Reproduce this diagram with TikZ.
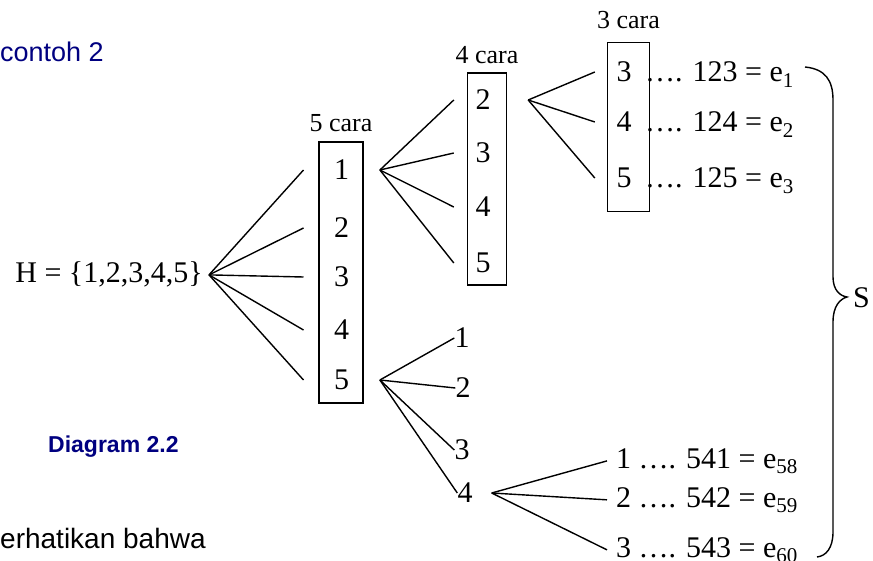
\documentclass[tikz,border=0pt]{standalone}
\usepackage{fontspec}
\setmainfont{Liberation Serif}
\newfontfamily\labelsans{Liberation Sans}
\usetikzlibrary{positioning}

\definecolor{navytext}{RGB}{0,0,128}
\newcommand{\numsize}{\fontsize{30}{36}\selectfont}
\newcommand{\carasize}{\fontsize{26}{31}\selectfont}

\tikzset{
  num/.style={font=\numsize, inner sep=0pt},
  lvlA/.style={num, minimum width=76pt},
  lvlB/.style={num, minimum width=58pt},
  pickbox/.style={draw, line width=1.4pt, inner sep=0pt},
  cara/.style={font=\carasize, inner sep=2pt},
  twig/.style={line width=1.4pt},
  outcome/.style={font=\numsize, anchor=base west, inner xsep=0pt, inner ysep=0pt},
  sans/.style={anchor=base west, inner sep=0pt},
}

\begin{document}
\begin{tikzpicture}[x=1pt, y=-1pt]
    \useasboundingbox (0,0) rectangle (873,561);

    % side texts
    \node[sans, font={\labelsans\fontsize{27}{32}\selectfont}, text=navytext] (title) at (0,62) {contoh 2};
    \node[sans, font={\labelsans\bfseries\fontsize{23}{28}\selectfont}, text=navytext] (caption) at (48,452) {Diagram 2.2};
    \node[sans, font={\labelsans\fontsize{28}{33}\selectfont}] (remark) at (0,548) {erhatikan bahwa};

    % the set
    \node[font=\numsize, anchor=base east, inner xsep=6pt, inner ysep=0pt] (H) at (209,283) {H = \{1,2,3,4,5\}};

    % first pick
    \node[pickbox, minimum width=44pt, minimum height=261pt] (box1) at (341,272.5) {};
    \node[cara, above=7pt of box1] (cara1) {5 cara};
    \node[lvlA] (a1) at (341.7,170) {1};
    \node[lvlA] (a2) at (341.7,228) {2};
    \node[lvlA] (a3) at (341.7,277) {3};
    \node[lvlA] (a4) at (341.7,330) {4};
    \node[lvlA] (a5) at (341.7,380) {5};

    % second pick after 1
    \node[pickbox, minimum width=39pt, minimum height=212pt] (box2) at (487,179) {};
    \node[cara, above=6pt of box2] (cara2) {4 cara};
    \node[lvlB] (b2) at (483,100) {2};
    \node[lvlB] (b3) at (483,153) {3};
    \node[lvlB] (b4) at (483,207) {4};
    \node[lvlB] (b5) at (483,263) {5};
    \coordinate[right=16pt of b2] (knotB);

    % third pick after 12
    \node[pickbox, minimum width=42pt, minimum height=169pt] (box3) at (628.5,127.2) {};
    \node[cara, above=11pt of box3] (cara3) {3 cara};
    \node[lvlB] (c3) at (624,72) {3};
    \node[lvlB] (c4) at (624,122) {4};
    \node[lvlB] (c5) at (624,178) {5};
    \node[outcome] (r1) at (645,82) {…. 123 = e\textsubscript{1}};
    \node[outcome] (r2) at (645,132) {…. 124 = e\textsubscript{2}};
    \node[outcome] (r3) at (645,188) {…. 125 = e\textsubscript{3}};

    % branch after 5
    \node[num] (d1) at (462,338) {1};
    \node[num] (d2) at (463,388) {2};
    \node[num] (d3) at (462,450) {3};
    \node[num] (d4) at (465,493) {4};
    \coordinate[right=19pt of d4] (knotD);
    \node[outcome, inner xsep=9pt] (s1) at (607,468) {1 …. 541 = e\textsubscript{58}};
    \node[outcome, inner xsep=9pt] (s2) at (607,507) {2 …. 542 = e\textsubscript{59}};
    \node[outcome, inner xsep=9pt] (s3) at (607,557) {3 …. 543 = e\textsubscript{60}};

    % branches
    \draw[twig] (H.east) -- (a1.west);
    \draw[twig] (H.east) -- (a2.west);
    \draw[twig] (H.east) -- (a3.west);
    \draw[twig] (H.east) -- (a4.west);
    \draw[twig] (H.east) -- (a5.west);
    \draw[twig] (a1.east) -- (b2.west);
    \draw[twig] (a1.east) -- (b3.west);
    \draw[twig] (a1.east) -- (b4.west);
    \draw[twig] (a1.east) -- (b5.west);
    \draw[twig] (knotB) -- (c3.west);
    \draw[twig] (knotB) -- (c4.west);
    \draw[twig] (knotB) -- (c5.west);
    \draw[twig] (a5.east) -- (d1.west);
    \draw[twig] (a5.east) -- (d2.west);
    \draw[twig] (a5.east) -- (d3.west);
    \draw[twig] (a5.east) -- (d4.west);
    \draw[twig] (knotD) -- (s1.west);
    \draw[twig] (knotD) -- (s2.west);
    \draw[twig] (knotD) -- (s3.west);

    % sample space
    \draw[twig] (805,67) .. controls (825,69) and (833,80) .. (833,100) -- (833,277)
        .. controls (833,290) and (840,296) .. (847,297)
        .. controls (840,299) and (833,306) .. (833,322) -- (833,532)
        .. controls (833,548) and (826,556) .. (817,557);
    \node[font=\fontsize{30}{36}\selectfont, anchor=west, inner sep=0pt] (S) at (853,298) {S};
\end{tikzpicture}
\end{document}
